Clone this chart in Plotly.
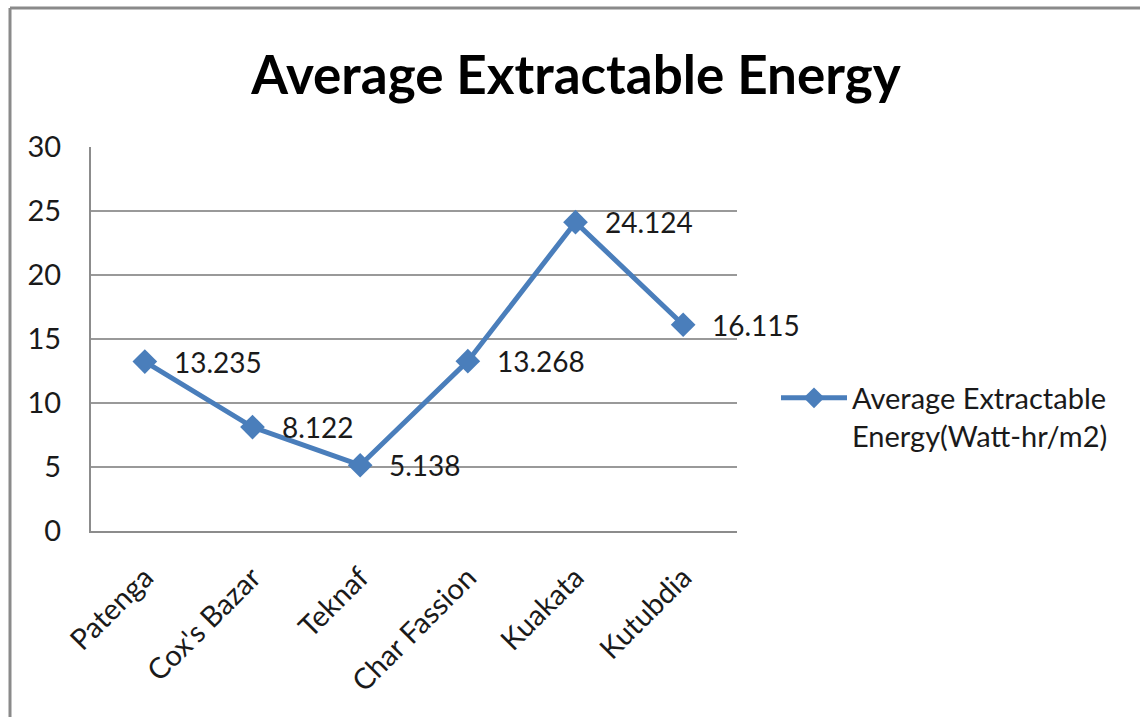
import plotly.graph_objects as go

# Average extractable tidal energy per site
sites = ["Patenga", "Cox's Bazar", "Teknaf", "Char Fassion", "Kuakata", "Kutubdia"]
energy = [13.235, 8.122, 5.138, 13.268, 24.124, 16.115]
y_ticks = [0, 5, 10, 15, 20, 25, 30]
series_name = "Average Extractable<br>Energy(Watt-hr/m2)"

BLUE = "#4a7ebb"
GRID = "#8c8c8c"
FONT = "Lato"

W, H = 1140, 717
L, R, T, B = 91, 737, 147, 531  # plot area in pixels


def px(x):
    return (x - L) / (R - L)


def py(y):
    return (B - y) / (B - T)


fig = go.Figure()
fig.add_trace(go.Scatter(
    x=sites, y=energy, name=series_name,
    mode="lines+markers",
    line=dict(color=BLUE, width=5),
    marker=dict(symbol="diamond", size=19, color=BLUE),
    showlegend=True,
))

# value labels to the right of each point
for s, v in zip(sites, energy):
    fig.add_annotation(
        x=s, y=v, xref="x", yref="y", text=f"{v:.3f}",
        showarrow=False, xanchor="left", yanchor="middle",
        xshift=27, font=dict(family=FONT, size=28, color="#1a1a1a"),
    )

# outer chart frame (left and top edges)
fig.add_shape(type="line", xref="paper", yref="paper",
              x0=px(10), x1=px(10), y0=py(8), y1=py(H + 5),
              line=dict(color="#8a8a8a", width=3))
fig.add_shape(type="line", xref="paper", yref="paper",
              x0=px(10), x1=px(W + 5), y0=py(8), y1=py(8),
              line=dict(color="#8a8a8a", width=3))

fig.update_layout(
    width=W, height=H,
    margin=dict(l=L, r=W - R, t=T, b=H - B),
    paper_bgcolor="white", plot_bgcolor="white",
    font=dict(family=FONT, size=28, color="#1a1a1a"),
    title=dict(text="<b>Average Extractable Energy</b>",
               x=px(576), xanchor="center", xref="paper",
               y=1 - 75 / H, yanchor="middle",
               font=dict(family=FONT, size=53, color="#000000")),
    legend=dict(x=px(776), y=py(417), xanchor="left", yanchor="middle",
                valign="top", font=dict(family=FONT, size=29, color="#1a1a1a"),
                bgcolor="rgba(0,0,0,0)", itemwidth=66),
    xaxis=dict(type="category", range=[-0.5, len(sites) - 0.5],
               showgrid=False, showline=True, linecolor=GRID, linewidth=2,
               ticks="", tickangle=-45, ticklabelstandoff=16,
               tickfont=dict(family=FONT, size=29, color="#1a1a1a"),
               zeroline=False, fixedrange=True),
    yaxis=dict(range=[0, 30], tickvals=y_ticks, showgrid=True,
               gridcolor="#999999", gridwidth=1.5, showline=True,
               linecolor=GRID, linewidth=2, ticks="",
               ticklabelstandoff=22, zeroline=False,
               tickfont=dict(family=FONT, size=29, color="#1a1a1a")),
)

fig.write_html("out.html")
